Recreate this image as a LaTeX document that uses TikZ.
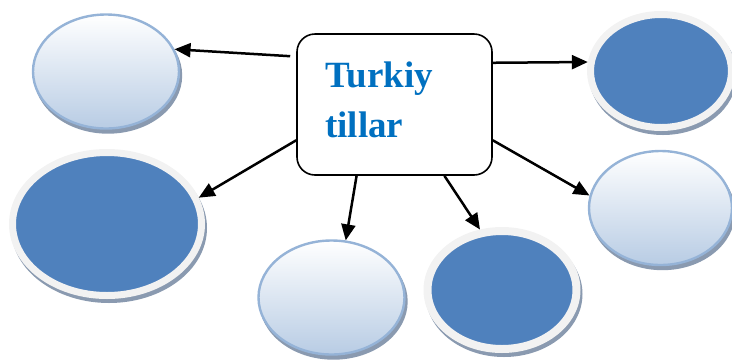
\documentclass[tikz,border=0pt]{standalone}
\usepackage{fontspec}
\setmainfont{Liberation Serif}
\usetikzlibrary{shapes.geometric,arrows.meta,shadows}
\definecolor{darkfill}{HTML}{4F81BD}
\definecolor{rimc}{HTML}{F2F2F2}
\definecolor{lightborder}{HTML}{95B3D7}
\definecolor{lightbottom}{HTML}{B8CCE4}
\definecolor{shadowc}{HTML}{8A9AB0}
\definecolor{titleblue}{HTML}{0070C0}
\begin{document}
\begin{tikzpicture}[x=1pt,y=-1pt,
  lightell/.style={ellipse, draw=lightborder, line width=2.4pt, top color=white, bottom color=lightbottom,
    minimum width=146pt, minimum height=114pt, inner sep=0pt,
    drop shadow={shadow xshift=2pt, shadow yshift=-4pt, fill=shadowc, draw=shadowc, opacity=1}},
  darkell/.style={ellipse, draw=rimc, line width=7pt, fill=darkfill, inner sep=0pt,
    drop shadow={shadow xshift=2pt, shadow yshift=-4pt, fill=shadowc, draw=shadowc, opacity=1}},
  centerbox/.style={rectangle, rounded corners=18pt, draw=black, line width=1.6pt, fill=white,
    minimum width=195pt, minimum height=141pt, inner sep=0pt},
  titletext/.style={anchor=base west, inner sep=0pt, text=titleblue,
    font=\fontsize{37}{50}\selectfont\bfseries},
  conn/.style={line width=2.5pt, -{Triangle[length=16pt,width=14pt]}}
]
\useasboundingbox (0,0) rectangle (732,360);

\node[lightell] (e1) at (106,71.5) {};
\node[darkell, minimum width=141pt, minimum height=113pt] (e2) at (661,71) {};
\node[darkell, minimum width=189pt, minimum height=143pt] (e3) at (107,224) {};
\node[lightell] (e4) at (331.5,297.5) {};
\node[darkell, line width=8pt, minimum width=149pt, minimum height=118pt] (e5) at (502,290) {};
\node[lightell, minimum width=143pt] (e6) at (660.5,208) {};

\node[centerbox] (box) at (394.5,104.5) {};
\node[titletext] (title1) at (325,87) {Turkiy};
\node[titletext] (title2) at (325,137) {tillar};

\draw[conn, shorten <=6pt] (box.154) -- (e1.18);
\draw[conn] (box.23.6) -- (e2.173);
\draw[conn] (box.200) -- (e3.16);
\draw[conn] (box.242) -- (e4.76);
\draw[conn] (box.305.6) -- (e5.110);
\draw[conn] (box.340) -- (e6.170);
\end{tikzpicture}
\end{document}
